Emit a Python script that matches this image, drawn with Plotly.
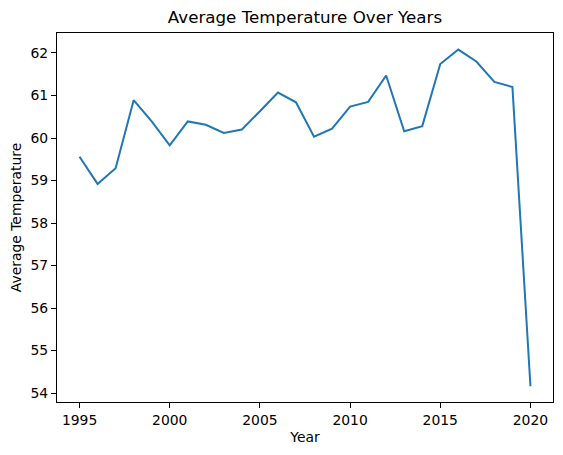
import plotly.graph_objects as go

# yearly averages
years = list(range(1995, 2021))
avg_temp = [
    59.56, 58.92, 59.29, 60.89, 60.39, 59.83, 60.39, 60.31, 60.12, 60.20,
    60.63, 61.07, 60.84, 60.03, 60.22, 60.74, 60.85, 61.47, 60.16, 60.28,
    61.74, 62.08, 61.80, 61.32, 61.20, 54.16,
]
x_ticks = [1995, 2000, 2005, 2010, 2015, 2020]
y_ticks = [54, 55, 56, 57, 58, 59, 60, 61, 62]

fig = go.Figure()
fig.add_trace(
    go.Scatter(
        x=years,
        y=avg_temp,
        mode="lines",
        line=dict(color="#1f77b4", width=2),
        showlegend=False,
    )
)

axis_style = dict(
    showline=True,
    linecolor="black",
    linewidth=1.1,
    mirror=True,
    ticks="outside",
    ticklen=5,
    tickwidth=1.1,
    tickcolor="black",
    showgrid=False,
    zeroline=False,
    automargin=False,
    tickfont=dict(size=13.9, color="black"),
)

# the page body has an 8px margin, so the figure is a bit smaller than the window
fig.update_layout(
    width=555,
    height=447,
    margin=dict(l=49, r=10, t=25, b=53),
    paper_bgcolor="white",
    plot_bgcolor="white",
    font=dict(family="DejaVu Sans", color="black"),
    title=dict(
        text="Average Temperature Over Years",
        x=(49 + 545) / 2 / 555,
        xanchor="center",
        y=1 - 9 / 447,
        yanchor="middle",
        font=dict(size=16.7),
    ),
    xaxis=dict(
        axis_style,
        range=[1993.75, 2021.25],
        tickvals=x_ticks,
        title=dict(text="Year", font=dict(size=13.9), standoff=5),
    ),
    yaxis=dict(
        axis_style,
        range=[53.79, 62.47],
        tickvals=y_ticks,
        title=dict(text="Average Temperature", font=dict(size=13.9), standoff=9),
    ),
)

fig.write_html("out.html")
